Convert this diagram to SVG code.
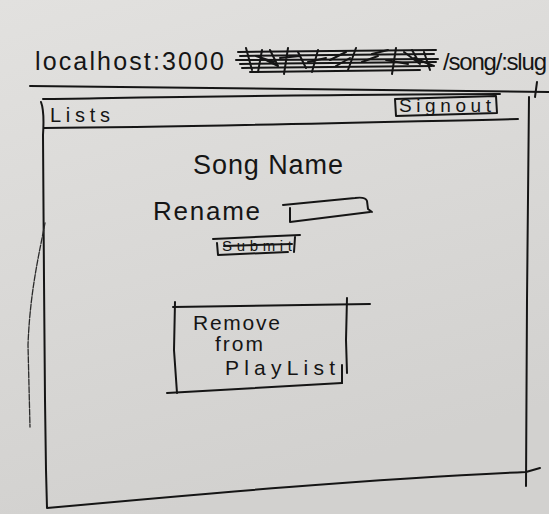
<svg xmlns="http://www.w3.org/2000/svg" width="549" height="514" viewBox="0 0 549 514">
  <defs>
    <linearGradient id="paper" x1="0" y1="0" x2="0.3" y2="1">
      <stop offset="0" stop-color="#e2e1df"/>
      <stop offset="1" stop-color="#d2d1cf"/>
    </linearGradient>
  </defs>
  <style>
    .ink { fill: none; stroke: #151515; stroke-width: 2; stroke-linecap: round; stroke-linejoin: round; }
    .thin { fill: none; stroke: #2a2a2a; stroke-width: 1.3; stroke-linecap: round; stroke-dasharray: 6 1.5; }
    .hand { font-family: "Liberation Sans", "DejaVu Sans", sans-serif; fill: #151515; }
  </style>
  <rect width="549" height="514" fill="url(#paper)"/>

  <g id="address-bar">
    <text class="hand" x="35" y="70" font-size="25" textLength="189" lengthAdjust="spacing">localhost:3000</text>
    <g id="scribble" class="ink" stroke-width="2.2">
      <path d="M238 52 L436 50"/>
      <path d="M240 56 L434 54"/>
      <path d="M236 60 L438 59"/>
      <path d="M240 64 L436 62"/>
      <path d="M242 68 L432 66"/>
      <path d="M250 72 L420 70"/>
      <path d="M246 48 L252 70 M262 50 L258 72 M256 56 L274 62 M270 50 L278 66 L266 60 M288 48 L284 74 M280 58 L300 56 M298 52 L306 68 M318 50 L312 72 M308 62 L326 58 M330 60 L346 52 M336 66 L350 58 M356 48 L348 70 M362 62 L378 56 M372 54 L388 50 M396 48 L392 74 M386 60 L408 64 M404 52 L420 64 L412 50 M424 52 L430 70 M414 58 L434 66"/>
    </g>
    <text class="hand" x="443" y="70" font-size="24" textLength="104" lengthAdjust="spacing">/song/:slug</text>
    <path class="ink" d="M30 86 C150 86 300 89 549 92"/>
    <path class="ink" d="M537 82 L535 97"/>
  </g>

  <g id="frame">
    <path class="ink" d="M41 102 C44 110 44 120 43 135 L44 280 L45 400 L46 470 L47 508 C200 494 380 478 526 472 L540 468"/>
    <path class="ink" d="M43 99 C180 97 360 94 500 94"/>
    <path class="ink" d="M529 97 L527 300 L526 486"/>
    <path class="thin" d="M45 223 C40 250 30 290 28 345 L30 427"/>
  </g>

  <g id="header">
    <path class="ink" d="M44 128 C200 127 380 122 518 119"/>
    <text id="lists-link" class="hand" x="50" y="122" font-size="20" textLength="60" lengthAdjust="spacing">Lists</text>
    <g id="signout-button">
      <path class="ink" d="M395 99 L496 96 L497 113 L396 116 Z"/>
      <text class="hand" x="399" y="112" font-size="19" textLength="92" lengthAdjust="spacing">Signout</text>
    </g>
  </g>

  <g id="song-name">
    <text class="hand" x="193" y="174" font-size="27" textLength="150" lengthAdjust="spacing">Song Name</text>
  </g>

  <g id="rename-label">
    <text class="hand" x="153" y="220" font-size="26" textLength="107" lengthAdjust="spacing">Rename</text>
  </g>

  <g id="rename-input">
    <path class="ink" d="M283 205 L355 198 C362 197 366 198 367 201 L368 209 L372 212"/>
    <path class="ink" d="M290 208 L290 222 L370 212"/>
  </g>

  <g id="submit-button">
    <path class="ink" d="M213 239 L300 235"/>
    <path class="ink" d="M217 243 L218 255 L288 252"/>
    <path class="ink" d="M295 237 L294 252"/>
    <text class="hand" x="222" y="251" font-size="15" textLength="70" lengthAdjust="spacing">Submit</text>
    <path class="ink" stroke-width="1.4" d="M224 246 L292 244"/>
  </g>

  <g id="remove-button">
    <path class="ink" d="M173 307 L370 304"/>
    <path class="ink" d="M175 302 L174 350 L177 393"/>
    <path class="ink" d="M167 393 C230 389 290 386 342 383"/>
    <path class="ink" stroke-width="2.6" d="M347 298 L346 340 L347 373"/>
    <path class="ink" d="M342 365 L342 383"/>
    <text class="hand" x="193" y="330" font-size="21" textLength="87" lengthAdjust="spacing">Remove</text>
    <text class="hand" x="215" y="351" font-size="21" textLength="48" lengthAdjust="spacing">from</text>
    <text class="hand" x="225" y="375" font-size="21" textLength="110" lengthAdjust="spacing">PlayList</text>
  </g>
</svg>
